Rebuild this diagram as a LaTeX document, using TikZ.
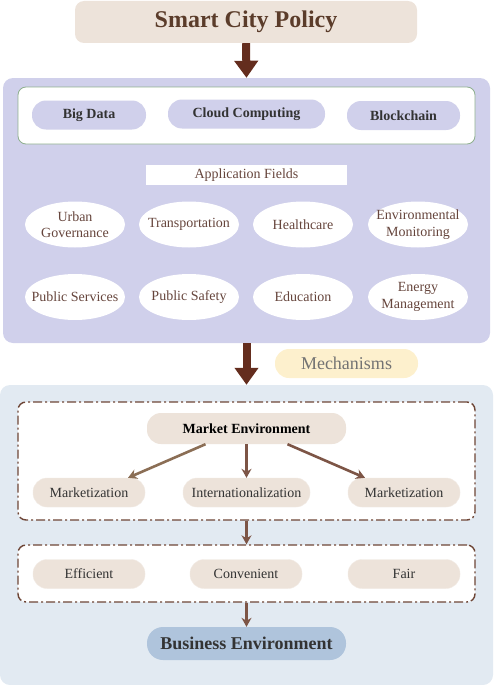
\documentclass[tikz,border=0pt]{standalone}
\usepackage{fontspec}
\setmainfont{Liberation Serif}
\usetikzlibrary{shapes.geometric,arrows.meta}
\newlength{\du}
\setlength{\du}{1pt}
\definecolor{policyfill}{rgb}{0.929412, 0.890196, 0.854902}
\definecolor{policytext}{rgb}{0.356863, 0.235294, 0.164706}
\definecolor{techfill}{rgb}{0.815686, 0.815686, 0.921569}
\definecolor{bizpanelfill}{rgb}{0.886275, 0.917647, 0.949020}
\definecolor{bigarrow}{rgb}{0.392157, 0.176471, 0.117647}
\definecolor{smallarrow}{rgb}{0.490196, 0.333333, 0.274510}
\definecolor{olivearrow}{rgb}{0.545098, 0.431373, 0.333333}
\definecolor{mechfill}{rgb}{0.992157, 0.941176, 0.803922}
\definecolor{mechtext}{rgb}{0.450000, 0.450000, 0.450000}
\definecolor{bizfill}{rgb}{0.686275, 0.768627, 0.862745}
\definecolor{dashline}{rgb}{0.431373, 0.274510, 0.215686}
\definecolor{fieldtext}{rgb}{0.400000, 0.270588, 0.235294}
\definecolor{innerline}{rgb}{0.560000, 0.690000, 0.560000}
\definecolor{darktext}{rgb}{0.200000, 0.200000, 0.200000}
\tikzset{
  pill/.style={rounded corners=14\du, inner sep=0pt, minimum height=29\du, font=\fontsize{14}{16}\selectfont},
  techpill/.style={pill, fill=techfill, text=darktext, font=\fontsize{14}{16}\selectfont\bfseries},
  envpill/.style={pill, fill=policyfill, draw=policyfill!70!white, minimum width=112\du, text=darktext},
  field/.style={ellipse, fill=white, inner xsep=-14\du, inner ysep=-4\du, minimum width=100\du, minimum height=46\du, align=center, text=fieldtext, font=\fontsize{14}{16.5}\selectfont},
  dashbox/.style={draw=dashline, fill=white, line width=1.4\du, rounded corners=8\du, dash pattern=on 9\du off 3\du on 2\du off 3\du, inner sep=0pt},
  bigstep/.style={bigarrow, line width=8pt, -{Triangle[width=23pt,length=17pt]}},
  smallstep/.style={smallarrow, line width=2.6pt, -{Stealth[width=10pt,length=9pt,inset=3pt]}}
}

\begin{document}
\begin{tikzpicture}
\pgftransformxscale{1.000000}
\pgftransformyscale{-1.000000}
\useasboundingbox (0\du,0\du) rectangle (493\du,685\du);
% top
\node[fill=policyfill, rounded corners=9\du, minimum width=342\du, minimum height=42\du, text=policytext, font=\fontsize{24}{27}\selectfont\bfseries] (policy) at (246.000000\du,22.000000\du){Smart City Policy};
% technology panel
\node[fill=techfill, rounded corners=10\du, minimum width=487\du, minimum height=265\du] (techpanel) at (246.500000\du,210.500000\du){};
\node[draw=innerline, fill=white, rounded corners=8\du, line width=0.8\du, minimum width=457\du, minimum height=57\du] (techbox) at (246.500000\du,115.500000\du){};
\node[techpill, minimum width=114\du] (bigdata) at (89.000000\du,115.000000\du){Big Data};
\node[techpill, minimum width=157\du] (cloud) at (246.500000\du,114.000000\du){Cloud Computing};
\node[techpill, minimum width=113\du] (chain) at (403.500000\du,115.500000\du){Blockchain};
\node[fill=white, minimum width=201\du, minimum height=20\du, inner sep=0pt, text=fieldtext, font=\fontsize{14}{16}\selectfont] (fields) at (246.500000\du,175.000000\du){Application Fields};
\node[field] (urban) at (75.000000\du,224.500000\du){Urban\\Governance};
\node[field] (transport) at (189.000000\du,224.500000\du){Transportation};
\node[field] (health) at (303.000000\du,224.500000\du){Healthcare};
\node[field] (environ) at (418.000000\du,224.500000\du){Environmental\\Monitoring};
\node[field] (services) at (75.000000\du,297.000000\du){Public Services};
\node[field] (safety) at (189.000000\du,297.000000\du){Public Safety};
\node[field] (education) at (303.000000\du,297.000000\du){Education};
\node[field] (energy) at (418.000000\du,297.000000\du){Energy\\Management};
% mechanisms
\node[fill=mechfill, rounded corners=14\du, minimum width=143\du, minimum height=29\du, inner sep=0pt, text=mechtext, font=\fontsize{18}{20}\selectfont] (mech) at (346.500000\du,363.500000\du){Mechanisms};
% business panel
\node[fill=bizpanelfill, rounded corners=10\du, minimum width=493\du, minimum height=300\du] (bizpanel) at (246.500000\du,535.000000\du){};
\node[dashbox, minimum width=457\du, minimum height=118\du] (marketbox) at (246.500000\du,461.000000\du){};
\node[pill, fill=policyfill, minimum width=199\du, minimum height=31\du, text=black, font=\fontsize{14}{16}\selectfont\bfseries] (market) at (246.500000\du,428.500000\du){Market Environment};
\node[envpill] (marketL) at (89.000000\du,492.500000\du){Marketization};
\node[envpill, minimum width=127\du] (inter) at (246.500000\du,492.500000\du){Internationalization};
\node[envpill] (marketR) at (404.000000\du,492.500000\du){Marketization};
\node[dashbox, minimum width=457\du, minimum height=57\du] (qualitybox) at (246.500000\du,573.500000\du){};
\node[envpill] (efficient) at (89.000000\du,574.000000\du){Efficient};
\node[envpill] (convenient) at (246.000000\du,574.000000\du){Convenient};
\node[envpill] (fair) at (404.000000\du,574.000000\du){Fair};
\node[pill, fill=bizfill, minimum width=199\du, minimum height=33\du, rounded corners=16\du, text=darktext, font=\fontsize{18}{20}\selectfont\bfseries] (business) at (246.500000\du,643.500000\du){Business Environment};
% arrows
\draw[bigstep] (policy.south) -- (techpanel.north);
\draw[bigstep] (techpanel.south) -- (bizpanel.north);
\draw[smallstep, olivearrow] ([xshift=-41\du]market.south) -- ([xshift=39\du]marketL.north);
\draw[smallstep] (market.south) -- (inter.north);
\draw[smallstep] ([xshift=41\du]market.south) -- ([xshift=-39\du]marketR.north);
\draw[smallstep] (marketbox.south) -- (qualitybox.north);
\draw[smallstep] (qualitybox.south) -- (business.north);
\end{tikzpicture}
\end{document}
